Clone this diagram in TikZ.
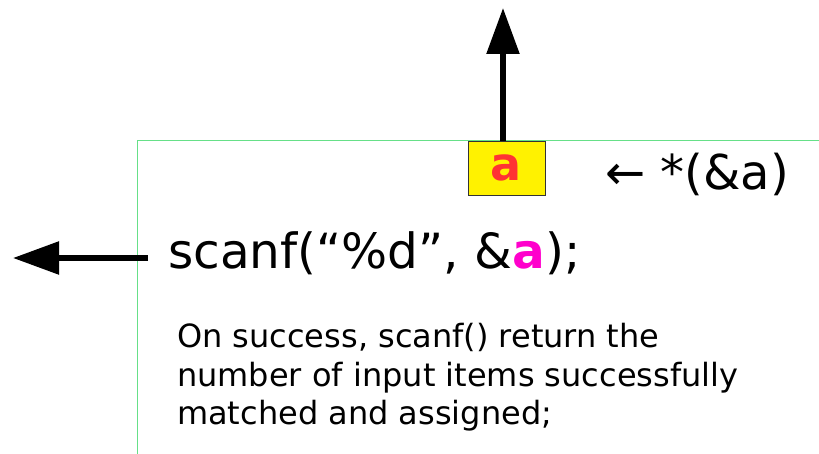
\documentclass[tikz,border=0pt]{standalone}
\usepackage{fontspec}
\setmainfont{DejaVu Sans}
\usetikzlibrary{arrows.meta}

\definecolor{frameline}{RGB}{102,224,136}
\definecolor{valred}{RGB}{255,51,51}
\definecolor{argpink}{RGB}{255,0,204}

\begin{document}
\begin{tikzpicture}[x=1pt, y=-1pt, >={Triangle[length=46pt,width=32pt]},
    bigarrow/.style={->, line width=5.5pt},
    cell/.style={draw=black!80, fill=yellow, line width=0.8pt, inner sep=0pt,
                 minimum width=77pt, minimum height=54pt},
    code/.style={inner sep=0pt, anchor=base west}]
    \useasboundingbox (0,0) rectangle (819,454);

    % frame edges
    \draw [frameline, line width=1pt] (137,454) |- (819,141);

    % Nodes {box, call, deref, note}
    \node [cell] (box) at (506.5,168) {\fontsize{46}{46}\selectfont\bfseries\color{valred}a};
    \node [code] (call) at (168,269)
        {\fontsize{48.5}{48.5}\selectfont scanf(“\%d”, \&{\bfseries\color{argpink}a});};
    \node [code] (deref) at (605,190) {\fontsize{48}{48}\selectfont ← *(\&a)};
    \node [inner sep=0pt, anchor=north west, align=left,
           font=\fontsize{32}{38.5}\selectfont] (note) at (177,323)
        {On success, scanf() return the\\
         number of input items successfully\\
         matched and assigned;};

    % arrow ends
    \coordinate (up) at (503,8);
    \coordinate (out) at (13,258);
    \coordinate (start) at (148,258);

    % Paths
    \draw [bigarrow] (box.north -| up) -- (up);
    \draw [bigarrow] (start) -- (out);
\end{tikzpicture}
\end{document}
